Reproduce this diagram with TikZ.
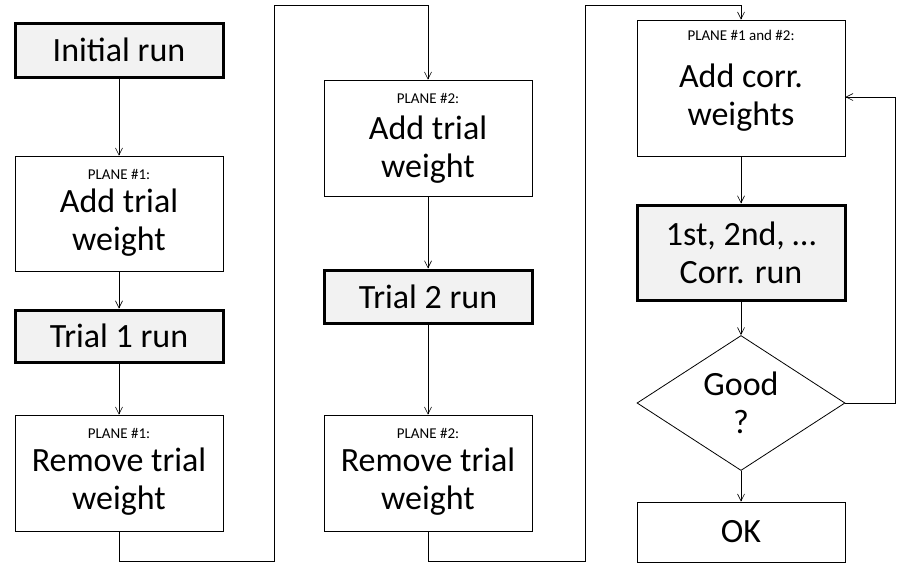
\documentclass[tikz,border=0pt]{standalone}
\usepackage{fontspec}
\setmainfont{Carlito}
\usetikzlibrary{shapes.geometric,arrows.meta}
\begin{document}
\begin{tikzpicture}[x=1pt,y=-1pt,
 box/.style={draw,line width=0.8pt,fill=white,minimum width=208pt,align=center,inner sep=0pt},
 run/.style={box,line width=3pt,fill=gray!10},
 big/.style={font=\fontsize{34}{38}\selectfont,align=center},
 sm/.style={font=\fontsize{15}{17}\selectfont},
 ar/.style={-{Straight Barb[length=7pt,width=7pt]},line width=0.6pt}]
\useasboundingbox (0,0) rectangle (904,574);
\node[run,big,minimum height=54pt] (a) at (119,50) {Initial run};
\node[box,minimum height=115pt] (b) at (119,213.5) {};
\node[sm] at (119,174) {PLANE \#1:};
\node[big] at (119,223) {Add trial\\weight};
\node[run,big,minimum height=52pt] (c) at (119,336) {Trial 1 run};
\node[box,minimum height=116pt] (d) at (119,473) {};
\node[sm] at (119,433) {PLANE \#1:};
\node[big] at (119,482) {Remove trial\\weight};
\node[box,minimum height=116pt] (e) at (428,138) {};
\node[sm] at (428,98) {PLANE \#2:};
\node[big] at (428,150) {Add trial\\weight};
\node[run,big,minimum height=53pt] (f) at (428,296.5) {Trial 2 run};
\node[box,minimum height=116pt] (g) at (428,473) {};
\node[sm] at (428,433) {PLANE \#2:};
\node[big] at (428,482) {Remove trial\\weight};
\node[box,minimum height=136pt] (h) at (741,88) {};
\node[sm] at (741,35) {PLANE \#1 and \#2:};
\node[big] at (741,98) {Add corr.\\weights};
\node[run,big,minimum height=95pt] (i) at (741,252.5) {1st, 2nd, …\\Corr. run};
\node[draw,line width=0.8pt,diamond,aspect=1.54,minimum width=208pt,minimum height=135pt,inner sep=0pt] (j) at (741,403) {};
\node[big] at (741,403) {Good\\?};
\node[box,big,minimum height=60pt] (k) at (741,532) {OK};
\draw[ar] (a) -- (b);
\draw[ar] (b) -- (c);
\draw[ar] (c) -- (d);
\draw[ar] (e) -- (f);
\draw[ar] (f) -- (g);
\draw[ar] (h) -- (i);
\draw[ar] (i) -- (j);
\draw[ar] (j) -- (k);
\draw[ar] (d.south) -- ++(0,30) -| (274,5) -| (e.north);
\draw[ar] (g.south) -- ++(0,30) -| (585,5) -| (h.north);
\draw[ar] (j.east) -- (895,403) |- (h.east |- 0,97);
\end{tikzpicture}
\end{document}
